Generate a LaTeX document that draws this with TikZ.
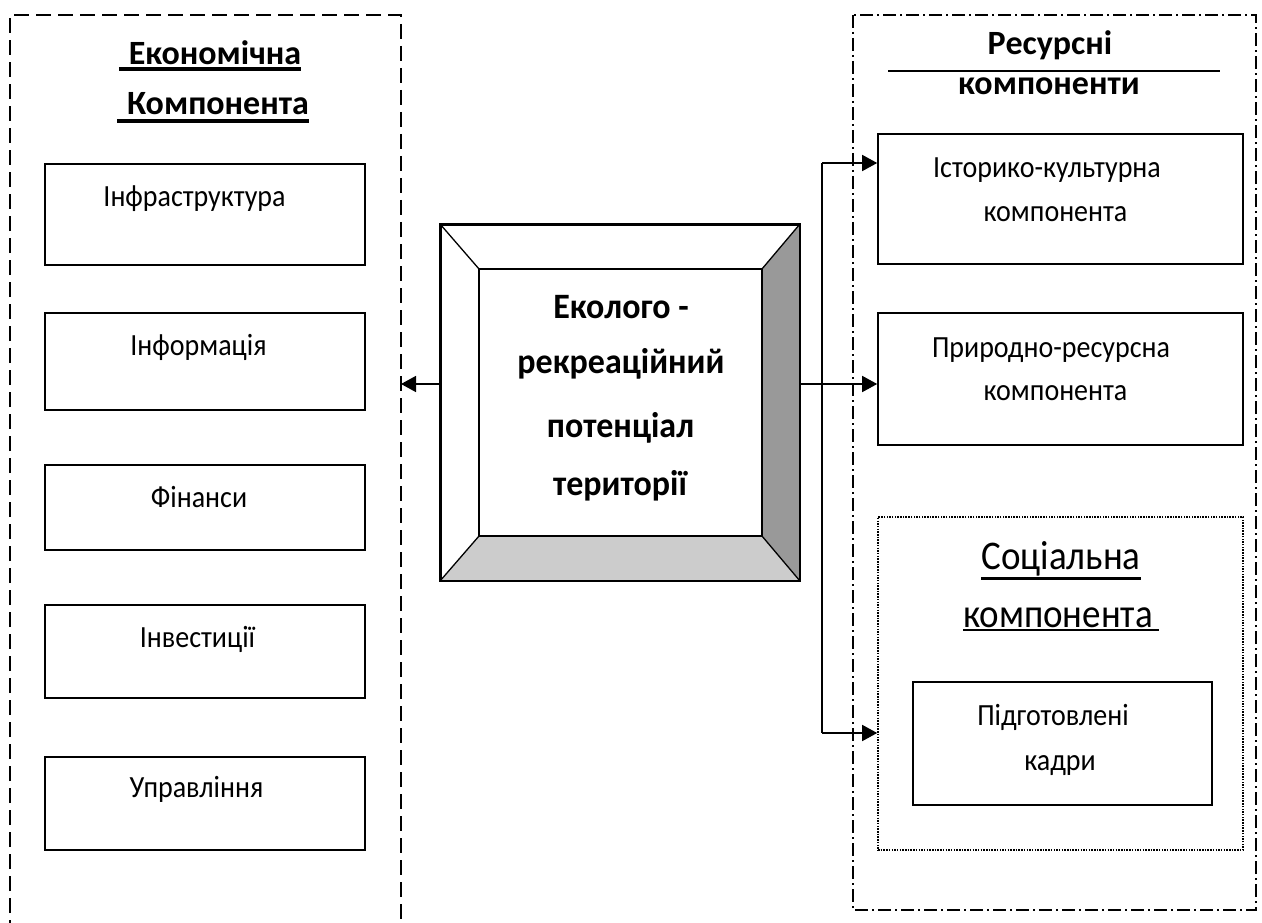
\documentclass[tikz,border=0pt]{standalone}
\usepackage{fontspec}
\usepackage{graphicx}
\setmainfont{Carlito}
\usetikzlibrary{arrows.meta,calc}
\newcommand\ulbox[3]{\vtop{\hbox{#3}\kern#1\hrule height#2\relax}}
\newcommand\tallA[1]{\scalebox{1}[1.1]{#1}}
\newcommand\tallB[1]{\scalebox{1}[1.05]{#1}}
\tikzset{
  box/.style={draw, line width=1.6pt, rectangle, inner sep=0pt},
  txt/.style={anchor=base, inner sep=0pt, font=\fontsize{28}{34}\selectfont},
  btxt/.style={anchor=base, inner sep=0pt, font=\fontsize{34}{40}\selectfont\bfseries},
  stxt/.style={anchor=base, inner sep=0pt, font=\fontsize{37}{44}\selectfont},
  conn/.style={line width=1.5pt},
  arr/.style={line width=1.5pt, -{Triangle[length=15pt,width=16pt]}},
  ecoframe/.style={line width=2.2pt, dash pattern=on 15pt off 7pt},
  resframe/.style={line width=2.2pt, dash pattern=on 13pt off 4pt on 2pt off 4pt},
  socframe/.style={line width=1.6pt, dash pattern=on 1.5pt off 1.2pt},
}
\begin{document}
\begin{tikzpicture}[x=1pt,y=-1pt]
\useasboundingbox (0,0) rectangle (1262,923);

% frames
\draw[ecoframe] (10,935) -- (10,15) -- (401,15) -- (401,935);
\draw[resframe] (853,15) rectangle (1256,910);

% left title
\node[btxt] (et1) at (210,65) {\ulbox{2pt}{3.5pt}{\hspace{10pt}Економічна}};
\node[btxt] (et2) at (213,115) {\ulbox{4pt}{4pt}{\hspace{10pt}Компонента}};

% left boxes
\node[box, minimum width=320pt, minimum height=101pt] (b1) at (205,214.5) {};
\node[box, minimum width=320pt, minimum height=97pt] (b2) at (205,361.5) {};
\node[box, minimum width=320pt, minimum height=85pt] (b3) at (205,507.5) {};
\node[box, minimum width=320pt, minimum height=93pt] (b4) at (205,651.5) {};
\node[box, minimum width=320pt, minimum height=93pt] (b5) at (205,803.5) {};
\node[txt] at (194.5,207) {\tallA{Інфраструктура}};
\node[txt] at (198.5,355) {\tallA{Інформація}};
\node[txt] at (199,507) {\tallA{Фінанси}};
\node[txt] at (197.5,647) {\tallA{Інвестиції}};
\node[txt] at (196.5,797) {\tallA{Управління}};

% center bevel box
\node[draw, line width=1.6pt, minimum width=358pt, minimum height=355pt, inner sep=0pt] (ctr) at (620,402.5) {};
\coordinate (iNW) at ($(ctr.north west)+(39,45)$);
\coordinate (iNE) at ($(ctr.north east)+(-38,45)$);
\coordinate (iSW) at ($(ctr.south west)+(39,-45)$);
\coordinate (iSE) at ($(ctr.south east)+(-38,-45)$);
\fill[black!40] (ctr.north east) -- (iNE) -- (iSE) -- (ctr.south east) -- cycle;
\fill[black!20] (ctr.south west) -- (iSW) -- (iSE) -- (ctr.south east) -- cycle;
\draw[line width=1.6pt] (ctr.north west) rectangle (ctr.south east);
\draw[line width=1.6pt] (iNW) rectangle (iSE);
\draw[line width=1.3pt] (ctr.north west) -- (iNW) (ctr.north east) -- (iNE)
  (ctr.south west) -- (iSW) (ctr.south east) -- (iSE);
\node[btxt] at (621,318) {\tallB{Еколого -}};
\node[btxt] at (621,373) {\tallB{рекреаційний}};
\node[btxt] at (620.5,437) {\tallB{потенціал}};
\node[btxt] at (620,495) {\tallB{території}};

% right title
\node[btxt] (rt1) at (1050,55) {Ресурсні};
\node[btxt] (rt2) at (1049,95) {компоненти};
\coordinate (tl1) at (888,71);
\coordinate (tl2) at (1220,71);
\draw[line width=2.2pt] (tl1) -- (tl2);

% right boxes
\node[box, minimum width=365pt, minimum height=130pt] (r1) at (1060.5,199) {};
\node[box, minimum width=365pt, minimum height=132pt] (r2) at (1060.5,379) {};
\node[txt] at (1047,178) {\tallA{Історико-культурна}};
\node[txt] at (1055.5,222) {\tallA{компонента}};
\node[txt] at (1051,357) {\tallA{Природно-ресурсна}};
\node[txt] at (1055.5,400) {\tallA{компонента}};

% social
\node[draw, socframe, minimum width=365pt, minimum height=333pt, inner sep=0pt] (soc) at (1060.5,683.5) {};
\node[stxt] at (1061,569) {\ulbox{1.5pt}{2.5pt}{\tallA{Соціальна}}};
\node[stxt] at (1061,627) {\ulbox{1.5pt}{2.5pt}{\tallA{компонента}\hspace{6pt}}};
\node[box, minimum width=299pt, minimum height=123pt] (r3) at (1062.5,743.5) {};
\node[txt] at (1053,725) {\tallA{Підготовлені}};
\node[txt] at (1060,770) {\tallA{кадри}};

% connectors
\coordinate (lb) at (401,384);
\coordinate (j1) at (822,163);
\coordinate (j2) at (822,384);
\coordinate (j3) at (822,733);
\draw[arr] (ctr.west |- lb) -- (lb);
\draw[conn] (ctr.east |- j2) -- (j2);
\draw[conn] (j1) -- (j3);
\draw[arr] (j1) -- (r1.west |- j1);
\draw[arr] (j2) -- (r2.west |- j2);
\draw[arr] (j3) -- (soc.west |- j3);
\end{tikzpicture}
\end{document}
